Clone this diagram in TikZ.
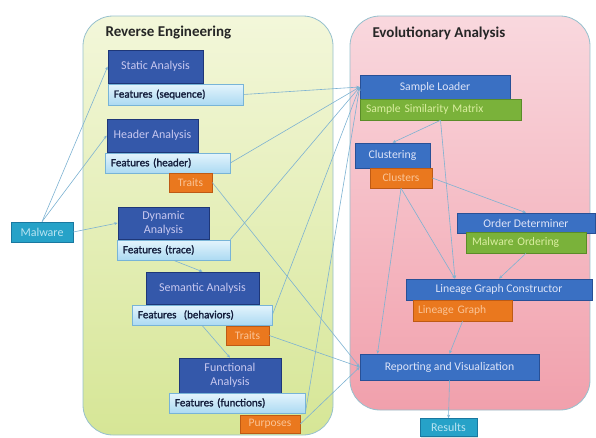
\documentclass[tikz,border=0pt]{standalone}
\usepackage{fontspec}
\setmainfont{Carlito}
\newfontfamily\featfont[FakeBold=1.6]{Carlito}
\usetikzlibrary{arrows.meta,shadows}

\definecolor{anafill}{RGB}{52,88,170}
\definecolor{anaedge}{RGB}{30,55,120}
\definecolor{anatext}{RGB}{200,200,240}
\definecolor{evofill}{RGB}{58,112,195}
\definecolor{evoedge}{RGB}{40,80,150}
\definecolor{evotext}{RGB}{222,228,248}
\definecolor{feattop}{RGB}{228,244,252}
\definecolor{featbot}{RGB}{172,218,242}
\definecolor{featedge}{RGB}{120,180,215}
\definecolor{feattext}{RGB}{20,30,60}
\definecolor{orfill}{RGB}{234,120,30}
\definecolor{oredge}{RGB}{190,90,20}
\definecolor{ortext}{RGB}{250,196,150}
\definecolor{grfill}{RGB}{122,178,58}
\definecolor{gredge}{RGB}{90,140,40}
\definecolor{grtext}{RGB}{218,238,160}
\definecolor{tlfill}{RGB}{38,162,200}
\definecolor{tledge}{RGB}{25,120,160}
\definecolor{tltext}{RGB}{185,228,242}
\definecolor{greentop}{RGB}{243,247,218}
\definecolor{greenbot}{RGB}{214,230,150}
\definecolor{pinktop}{RGB}{249,216,222}
\definecolor{pinkbot}{RGB}{241,160,172}
\definecolor{areaedge}{RGB}{150,192,205}
\definecolor{linkblue}{RGB}{125,178,210}

\tikzset{
  box/.style={draw, line width=0.6pt, inner sep=1pt,
    drop shadow={opacity=0.25, shadow xshift=1pt, shadow yshift=-1.2pt}},
  ana/.style={box, fill=anafill, draw=anaedge, text=anatext, align=center,
    font=\fontsize{12}{14}\selectfont},
  evo/.style={box, fill=evofill, draw=evoedge, text=evotext,
    font=\fontsize{11.7}{13}\selectfont},
  feat/.style={box, top color=feattop, bottom color=featbot, draw=featedge,
    text=feattext, align=left, inner xsep=6pt, font=\featfont\fontsize{11}{13}\selectfont},
  outp/.style={box, fill=orfill, draw=oredge, text=ortext,
    font=\fontsize{11.5}{13}\selectfont},
  mat/.style={box, fill=grfill, draw=gredge, text=grtext, align=left, inner xsep=6pt,
    font=\fontsize{11.6}{13}\selectfont},
  io/.style={box, fill=tlfill, draw=tledge, text=tltext,
    font=\fontsize{12}{13}\selectfont},
  area/.style={draw=areaedge, line width=0.8pt, rounded corners=30pt},
  title/.style={text=black!85, font=\fontsize{15}{17}\selectfont\bfseries},
  link/.style={draw=linkblue, line width=0.6pt, -{Stealth[length=3.5pt,width=3pt]}}
}

\begin{document}
\begin{tikzpicture}[x=1pt,y=-1pt]
\useasboundingbox (0,0) rectangle (596,437);
\draw[area, top color=greentop, bottom color=greenbot] (83,16) rectangle (333,435);
\draw[area, top color=pinktop, bottom color=pinkbot] (350,16) rectangle (590,410);
\node[title, anchor=west] (ret) at (102,33) {Reverse Engineering};
\node[title, anchor=west] (eat) at (369,33) {Evolutionary Analysis};

\node[io, minimum width=62, minimum height=20] (mw) at (42,232) {Malware};

\node[ana, minimum width=95, minimum height=33] (sa) at (155.5,66.5) {Static Analysis};
\node[feat, text width=123, minimum height=21] (fs) at (175.5,94.5) {Features (sequence)};
\node[ana, minimum width=91, minimum height=33] (ha) at (152.5,135.5) {Header Analysis};
\node[feat, text width=113, minimum height=20] (fh) at (167.5,163) {Features (header)};
\node[outp, minimum width=43, minimum height=19] (tr1) at (190.5,182.5) {Traits};
\node[ana, minimum width=91, minimum height=32] (da) at (163.5,223) {Dynamic\\Analysis};
\node[feat, text width=101, minimum height=20] (ft) at (173.5,250) {Features (trace)};
\node[ana, minimum width=113, minimum height=32] (sem) at (202.5,288) {Semantic Analysis};
\node[feat, text width=128, minimum height=20] (fb) at (202,315) {Features~~(behaviors)};
\node[outp, minimum width=43, minimum height=19] (tr2) at (247.5,335.5) {Traits};
\node[ana, minimum width=102, minimum height=35] (fa) at (230,375.5) {Functional\\Analysis};
\node[feat, text width=124, minimum height=20] (ff) at (237,403) {Features (functions)};
\node[outp, minimum width=60, minimum height=18] (pur) at (270,424) {Purposes};

\node[evo, minimum width=150, minimum height=24] (sl) at (435,87) {Sample Loader};
\node[mat, text width=149, minimum height=21] (ssm) at (440.5,109.5) {Sample Similarity Matrix};
\node[evo, minimum width=75, minimum height=25] (cl) at (392.5,155.5) {Clustering};
\node[outp, minimum width=62, minimum height=20] (cls) at (401,178) {Clusters};
\node[evo, minimum width=138, minimum height=20] (od) at (526,223) {Order Determiner};
\node[mat, text width=108, minimum height=21] (mo) at (526,242.5) {Malware Ordering};
\node[evo, minimum width=186, minimum height=21] (lgc) at (499,289.5) {Lineage Graph Constructor};
\node[outp, align=left, inner xsep=5pt, text width=89, minimum height=21] (lg) at (462.5,310.5) {Lineage Graph};
\node[evo, minimum width=179, minimum height=26] (rv) at (449.5,367) {Reporting and Visualization};
\node[io, minimum width=57, minimum height=18] (res) at (448.5,427.5) {Results};

\draw[link] (mw.north) -- (sa.west);
\draw[link] (mw.north) -- (ha.west);
\draw[link] (mw.east) -- (da.west);
\draw[link] (fs.east) -- (sl.west);
\draw[link] (fh.east) -- (sl.west);
\draw[link] (ft.north east) -- (sl.west);
\draw[link] (fb.east) -- (sl.west);
\draw[link] (ff.south east) -- (sl.west);
\draw[link] (ft.south) -- (sem.north);
\draw[link] (fb.south) -- (fa.north);
\draw[link] (tr1.east) -- (rv.west);
\draw[link] (tr2.east) -- (rv.west);
\draw[link] (pur.east) -- (rv.west);
\draw[link] (ssm.south) -- (cl.north);
\draw[link] (ssm.south) -- ([xshift=-44pt]lgc.north);
\draw[link] (cls.east) -- (od.north);
\draw[link] (cls.south) -- ([xshift=-44pt]lgc.north);
\draw[link] (cls.south) -- ([xshift=-72pt]rv.north);
\draw[link] (mo.south) -- (lgc.north);
\draw[link] (lg.south) -- (rv.north);
\draw[link] (rv.south) -- (res.north);
\end{tikzpicture}
\end{document}
